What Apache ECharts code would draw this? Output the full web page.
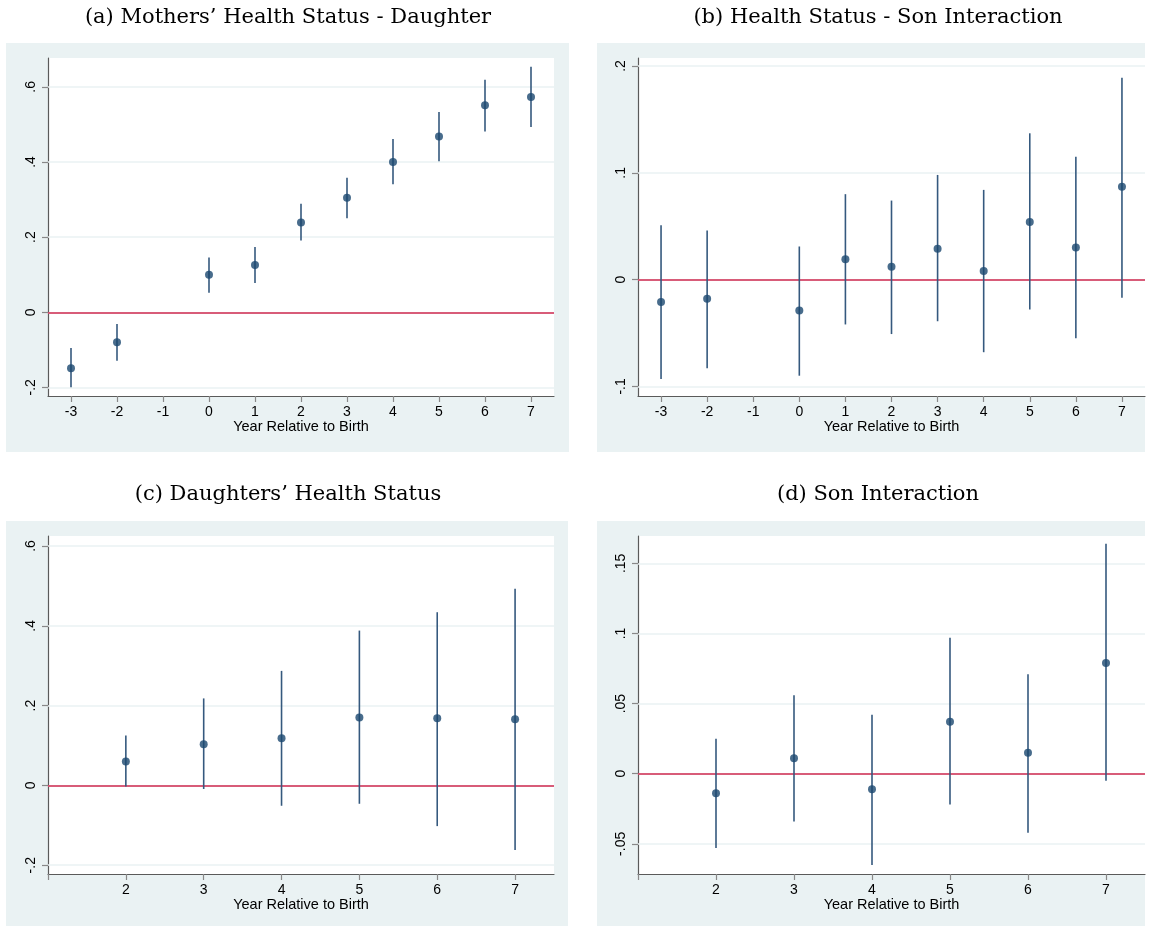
<!DOCTYPE html>
<html>
<head>
<meta charset="utf-8">
<script src="https://cdn.jsdelivr.net/npm/echarts@6/dist/echarts.min.js"></script>
<style>
html,body{margin:0;padding:0;background:#fff;}
#main{width:1154px;height:926px;}
</style>
</head>
<body>
<div id="main"></div>
<script>
// ---------- data ----------
const titles = [
  "(a) Mothers\u2019 Health Status - Daughter",
  "(b) Health Status - Son Interaction",
  "(c) Daughters\u2019 Health Status",
  "(d) Son Interaction"
];
const xTitle = "Year Relative to Birth";

const yearsAB = [-3, -2, 0, 1, 2, 3, 4, 5, 6, 7];
const yearsCD = [2, 3, 4, 5, 6, 7];

const aEst = [-0.149, -0.080, 0.100, 0.126, 0.239, 0.305, 0.400, 0.468, 0.551, 0.573];
const aLo  = [-0.200, -0.129, 0.052, 0.078, 0.191, 0.250, 0.341, 0.402, 0.481, 0.493];
const aHi  = [-0.095, -0.031, 0.146, 0.174, 0.289, 0.358, 0.461, 0.533, 0.619, 0.654];

const bEst = [-0.021, -0.018, -0.029, 0.019, 0.012, 0.029, 0.008, 0.054, 0.030, 0.087];
const bLo  = [-0.093, -0.083, -0.090, -0.042, -0.051, -0.039, -0.068, -0.028, -0.055, -0.017];
const bHi  = [0.051, 0.046, 0.031, 0.080, 0.074, 0.098, 0.084, 0.137, 0.115, 0.189];

const cEst = [0.060, 0.103, 0.118, 0.170, 0.168, 0.166];
const cLo  = [-0.003, -0.009, -0.051, -0.046, -0.102, -0.162];
const cHi  = [0.125, 0.218, 0.287, 0.388, 0.434, 0.493];

const dEst = [-0.014, 0.011, -0.011, 0.037, 0.015, 0.079];
const dLo  = [-0.053, -0.034, -0.065, -0.022, -0.042, -0.005];
const dHi  = [0.025, 0.056, 0.042, 0.097, 0.071, 0.164];

const xTicksAB = [-3, -2, -1, 0, 1, 2, 3, 4, 5, 6, 7];
const xTicksCD = [1, 2, 3, 4, 5, 6, 7];
const xLabelsCD = [2, 3, 4, 5, 6, 7];

const yTicksA = [-0.2, 0, 0.2, 0.4, 0.6];
const yTicksB = [-0.1, 0, 0.1, 0.2];
const yTicksC = [-0.2, 0, 0.2, 0.4, 0.6];
const yTicksD = [-0.05, 0, 0.05, 0.1, 0.15];

const xRangeAB = [-3.5, 7.5];
const xRangeCD = [1, 7.5];
const yRanges = [[-0.223, 0.677], [-0.109, 0.2075], [-0.222, 0.625], [-0.0715, 0.1695]];

// ---------- layout / style ----------
const NAVY = '#1a476f';
const CI_COLOR = '#35597e';
const RED = '#d0284f';
const BG = '#eaf2f3';
const AXIS = '#5a5a5a';
const SANS = 'Liberation Sans, Arial, sans-serif';

const grids = [
  {left: 48, top: 58, width: 506, height: 338},
  {left: 638, top: 58, width: 507, height: 338},
  {left: 48, top: 536, width: 506, height: 338},
  {left: 638, top: 536, width: 507, height: 338}
];
const panels = [
  {x: 6, y: 43, w: 563, h: 409},
  {x: 597, y: 43, w: 548, h: 409},
  {x: 6, y: 521, w: 562, h: 405},
  {x: 597, y: 521, w: 548, h: 405}
];
const titlePos = [[288, 18], [878, 18], [288, 495], [878, 495]];

const panelsData = [
  {years: yearsAB, est: aEst, lo: aLo, hi: aHi, xr: xRangeAB, xt: xTicksAB, xl: xTicksAB, yt: yTicksA},
  {years: yearsAB, est: bEst, lo: bLo, hi: bHi, xr: xRangeAB, xt: xTicksAB, xl: xTicksAB, yt: yTicksB},
  {years: yearsCD, est: cEst, lo: cLo, hi: cHi, xr: xRangeCD, xt: xTicksCD, xl: xLabelsCD, yt: yTicksC},
  {years: yearsCD, est: dEst, lo: dLo, hi: dHi, xr: xRangeCD, xt: xTicksCD, xl: xLabelsCD, yt: yTicksD}
];

function fmtY(v) {
  if (v === 0) return '0';
  return String(v).replace('0.', '.');
}

const option = {
  backgroundColor: '#ffffff',
  animation: false,
  graphic: [],
  grid: [], xAxis: [], yAxis: [], series: []
};

panels.forEach(function (p) {
  option.graphic.push({type: 'rect', shape: {x: p.x, y: p.y, width: p.w, height: p.h},
    style: {fill: BG}, z: -10, silent: true});
});
titles.forEach(function (t, i) {
  option.graphic.push({type: 'text', x: titlePos[i][0], y: titlePos[i][1], z: 10,
    style: {text: t, fill: '#000', font: '21px "DejaVu Serif", serif',
      textAlign: 'center', textVerticalAlign: 'middle'}});
});

panelsData.forEach(function (pd, i) {
  const g = grids[i];
  option.grid.push({left: g.left, top: g.top, width: g.width, height: g.height,
    show: true, backgroundColor: '#ffffff', borderWidth: 0, outerBoundsMode: 'none', containLabel: false});
  option.xAxis.push({
    type: 'value', gridIndex: i, min: pd.xr[0], max: pd.xr[1],
    name: xTitle, nameLocation: 'middle', nameGap: 23, nameMoveOverlap: false,
    nameTextStyle: {color: '#000', fontFamily: SANS, fontSize: 14.5},
    axisLine: {show: true, onZero: false, lineStyle: {color: AXIS, width: 1.2}},
    axisTick: {show: true, length: 6, customValues: pd.xt, lineStyle: {color: '#888', width: 1.2}},
    axisLabel: {show: true, customValues: pd.xl, margin: 9, color: '#000', fontFamily: SANS, fontSize: 14,
      showMinLabel: true, showMaxLabel: true},
    splitLine: {show: false}
  });
  option.yAxis.push({
    type: 'value', gridIndex: i, min: yRanges[i][0], max: yRanges[i][1],
    axisLine: {show: true, onZero: false, lineStyle: {color: AXIS, width: 1.2}},
    axisTick: {show: true, length: 6, customValues: pd.yt, lineStyle: {color: '#888', width: 1.2}},
    axisLabel: {show: true, customValues: pd.yt, rotate: 90, margin: 10, color: '#000',
      fontFamily: SANS, fontSize: 14, formatter: fmtY},
    splitLine: {show: false}
  });
  // gridlines
  option.series.push({
    type: 'line', xAxisIndex: i, yAxisIndex: i, data: [], silent: true, z: 1,
    markLine: {silent: true, z: 1, symbol: ['none', 'none'], label: {show: false},
      lineStyle: {color: BG, width: 1.5, type: 'solid'},
      data: pd.yt.map(function (v) { return {yAxis: v}; })}
  });
  // zero line
  option.series.push({
    type: 'line', xAxisIndex: i, yAxisIndex: i, data: [], silent: true, z: 2,
    markLine: {silent: true, z: 2, symbol: ['none', 'none'], label: {show: false},
      lineStyle: {color: RED, width: 1.6, type: 'solid'},
      data: [{yAxis: 0}]}
  });
  // confidence intervals
  option.series.push({
    type: 'custom', xAxisIndex: i, yAxisIndex: i, z: 3, silent: true,
    data: pd.years.map(function (x, k) { return [x, pd.lo[k], pd.hi[k]]; }),
    renderItem: function (params, api) {
      const p1 = api.coord([api.value(0), api.value(1)]);
      const p2 = api.coord([api.value(0), api.value(2)]);
      return {type: 'line', shape: {x1: p1[0], y1: p1[1], x2: p2[0], y2: p2[1]},
        style: {stroke: CI_COLOR, lineWidth: 1.6}};
    }
  });
  // point estimates
  option.series.push({
    type: 'scatter', xAxisIndex: i, yAxisIndex: i, z: 4, silent: true,
    symbol: 'circle', symbolSize: 8, itemStyle: {color: NAVY},
    data: pd.years.map(function (x, k) { return [x, pd.est[k]]; })
  });
});

const chart = echarts.init(document.getElementById('main'), null, {renderer: 'canvas'});
chart.setOption(option);
</script>
</body>
</html>
